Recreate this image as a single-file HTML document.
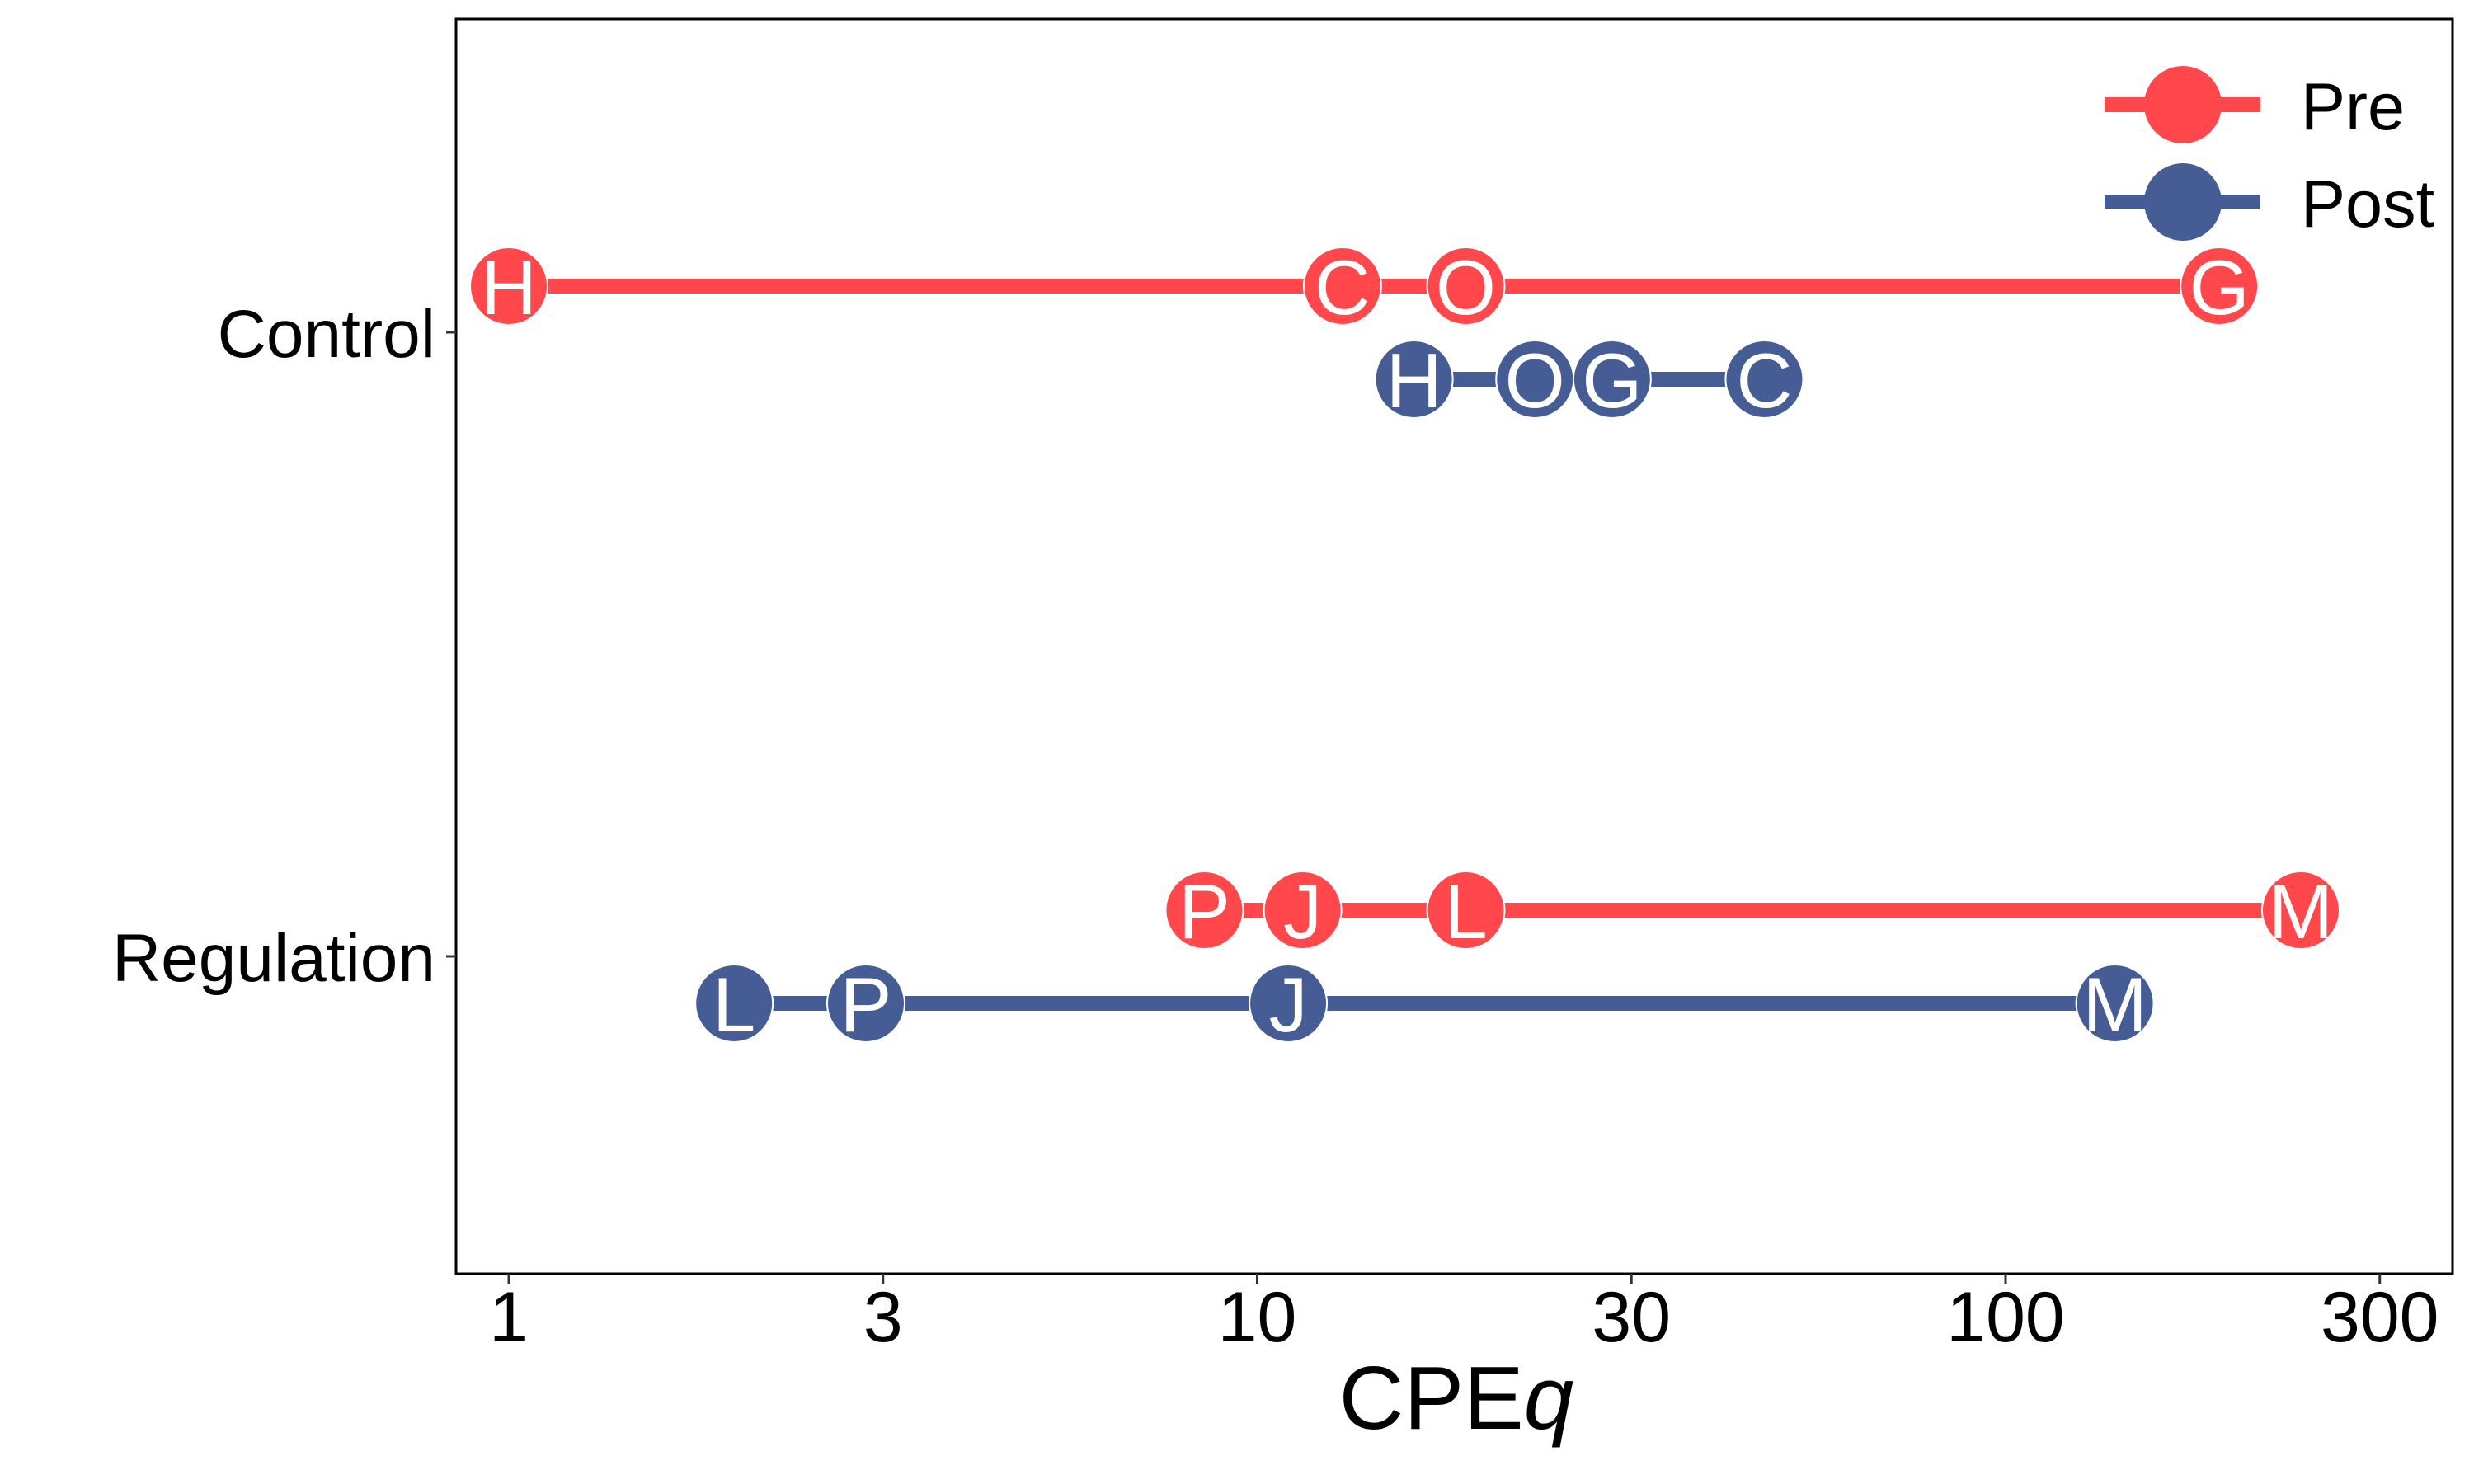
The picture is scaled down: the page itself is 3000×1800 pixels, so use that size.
<!DOCTYPE html>
<html><head><meta charset="utf-8"><style>
html,body{margin:0;padding:0;background:#fff}
svg{display:block;font-family:"Liberation Sans",Arial,sans-serif}
</style></head><body>
<svg id="chart" width="3000" height="1800" viewBox="0 0 3000 1800">
<rect x="553" y="23" width="2421" height="1522" fill="#fff" stroke="#000" stroke-width="3"/>
<g id="axes"></g>
<g id="marks"></g>
<g id="legend">
 <g>
  <line x1="2552" y1="127" x2="2741" y2="127" stroke="#FF474C" stroke-width="18"/>
  <circle cx="2647" cy="127" r="47" fill="#FF474C"/>
  <text x="2790" y="157" font-size="81" fill="#000">Pre</text>
 </g>
 <g>
  <line x1="2552" y1="245" x2="2741" y2="245" stroke="#465C94" stroke-width="18"/>
  <circle cx="2647" cy="245" r="47" fill="#465C94"/>
  <text x="2790" y="275" font-size="81" fill="#000">Post</text>
 </g>
</g>
<text x="1766" y="1733" font-size="109" text-anchor="middle" fill="#000">CPE<tspan font-style="italic">q</tspan></text>
</svg>
<script>
const groups = ["Control", "Regulation"];
const xTickValues = [1, 3.1623, 10, 31.623, 100, 316.23];
const xTickLabels = ["1", "3", "10", "30", "100", "300"];
const controlPreLabels = ["H", "C", "O", "G"];
const controlPreValues = [1, 13, 19, 193];
const controlPostLabels = ["H", "O", "G", "C"];
const controlPostValues = [16.2, 23.5, 29.8, 47.6];
const regPreLabels = ["P", "J", "L", "M"];
const regPreValues = [8.5, 11.5, 19, 248];
const regPostLabels = ["L", "P", "J", "M"];
const regPostValues = [2.0, 3.0, 11, 140];

const NS = "http://www.w3.org/2000/svg";
const x = v => 617 + Math.log10(v) * 907.5;
const yGroup = {Control: 403, Regulation: 1160};
const offset = {pre: -56, post: 57};
const colors = {pre: "#FF474C", post: "#465C94"};
function mk(tag, attrs, parent) {
  const e = document.createElementNS(NS, tag);
  for (const k in attrs) e.setAttribute(k, attrs[k]);
  parent.appendChild(e); return e;
}
const axes = document.getElementById("axes");
xTickValues.forEach((t, i) => {
  const g = mk("g", {}, axes);
  
  
  mk("line", {x1: x(t), x2: x(t), y1: 1545, y2: 1557, stroke: "#333", "stroke-width": 3}, g);
  const tx = mk("text", {x: x(t), y: 1627, "font-size": 86, "text-anchor": "middle", fill: "#000"}, g);
  tx.textContent = xTickLabels[i];
});
groups.forEach(gname => {
  const g = mk("g", {}, axes);
  
  
  const y = yGroup[gname];
  mk("line", {x1: 541, x2: 553, y1: y, y2: y, stroke: "#333", "stroke-width": 3}, g);
  const tx = mk("text", {x: 528, y: y + 30, "font-size": 82, "text-anchor": "end", fill: "#000"}, g);
  tx.textContent = gname;
});
const marks = document.getElementById("marks");
const series = [
  ["Control", "pre", controlPreLabels, controlPreValues],
  ["Control", "post", controlPostLabels, controlPostValues],
  ["Regulation", "pre", regPreLabels, regPreValues],
  ["Regulation", "post", regPostLabels, regPostValues]
];
series.forEach(([gname, phase, labels, vals]) => {
  const y = yGroup[gname] + offset[phase];
  const g = mk("g", {}, marks);
  
  
  const ln = mk("line", {x1: x(Math.min(...vals)), x2: x(Math.max(...vals)), y1: y, y2: y, stroke: colors[phase], "stroke-width": 18}, g);
  
  vals.forEach((v, i) => {
    const p = mk("g", {}, g);
    
    
    mk("circle", {cx: x(v), cy: y, r: 47, fill: colors[phase], stroke: "#fff", "stroke-width": 2}, p);
    const t = mk("text", {x: x(v), y: y + 34, "font-size": 94, "text-anchor": "middle", fill: "#fff"}, p);
    t.textContent = labels[i];
  });
});
</script>
</body></html>
